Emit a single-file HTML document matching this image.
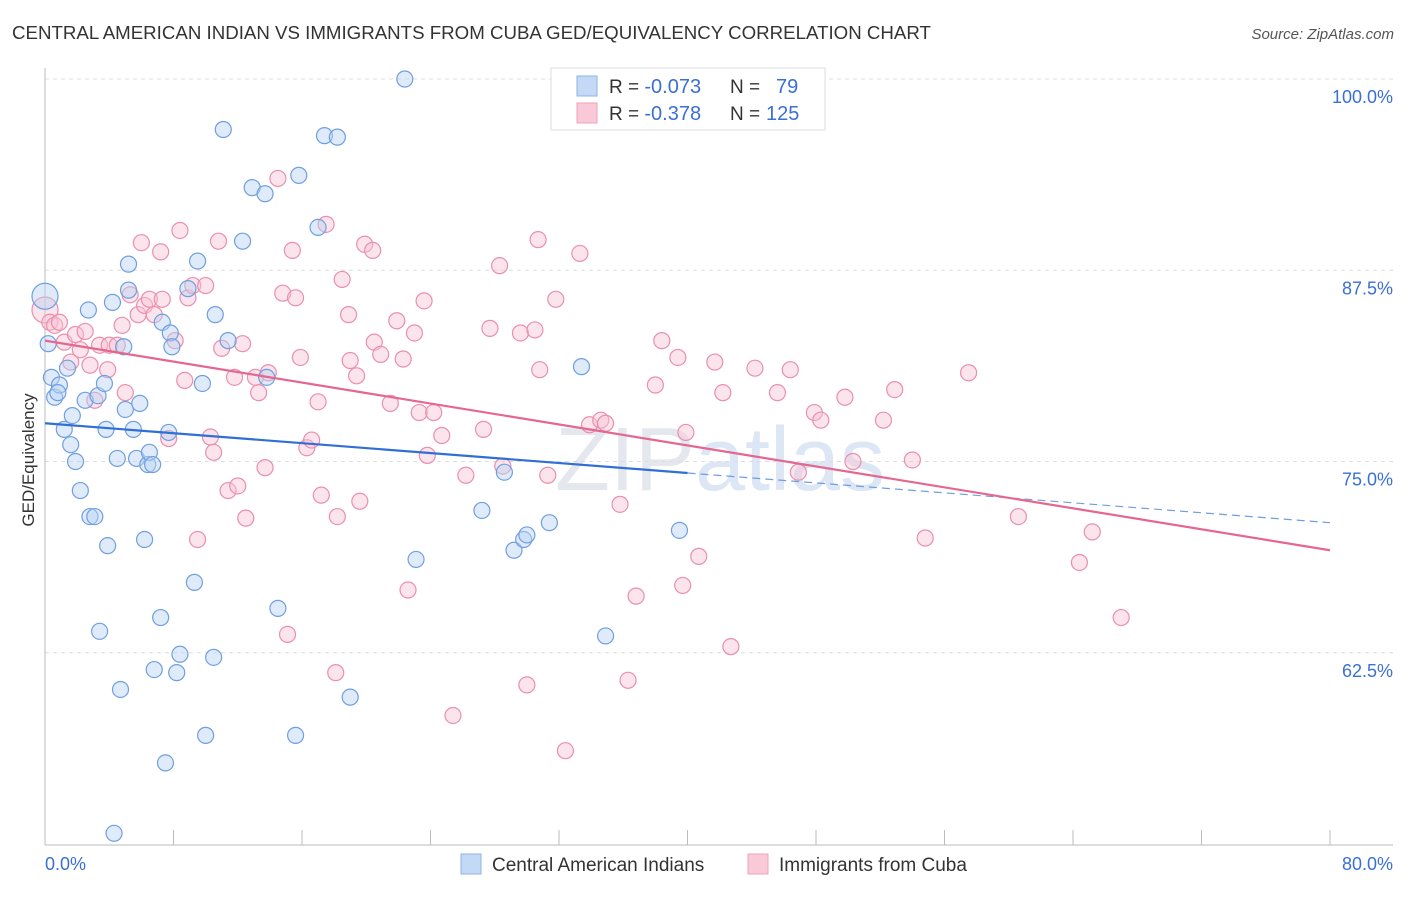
<!DOCTYPE html>
<html><head><meta charset="utf-8"><style>
body{margin:0;background:#fff;font-family:"Liberation Sans",sans-serif}
svg text{font-family:"Liberation Sans",sans-serif}
</style></head><body>
<svg id="c" width="1406" height="892">
<text x="12" y="39" font-size="18.7" fill="#333">CENTRAL AMERICAN INDIAN VS IMMIGRANTS FROM CUBA GED/EQUIVALENCY CORRELATION CHART</text>
<text x="1394" y="39" font-size="15" fill="#555" text-anchor="end" font-style="italic">Source: ZipAtlas.com</text>
<text x="720" y="490" font-size="90" fill="#e4e8ee" text-anchor="middle" font-family="Liberation Serif">ZIP<tspan fill="#dce6f4" font-family="Liberation Sans">atlas</tspan></text>
<g id="grid"></g><g id="axes"></g><g id="pts"></g><g id="trend"></g>
<text x="34" y="460" font-size="17" fill="#333" text-anchor="middle" transform="rotate(-90 34 460)">GED/Equivalency</text>
<g>
<rect x="551" y="68" width="274" height="62" fill="#fff" stroke="#ddd"/>
<rect x="577" y="76" width="20" height="20" fill="#c4d9f5" stroke="#8fb3e6"/>
<rect x="577" y="103" width="20" height="20" fill="#f9c9d8" stroke="#eea3ba"/>
<text x="609" y="93" font-size="19" fill="#333">R = <tspan font-size="20" fill="#3b6fd4">-0.073</tspan><tspan x="730">N = </tspan><tspan x="776" font-size="20" fill="#3b6fd4">79</tspan></text>
<text x="609" y="120" font-size="19" fill="#333">R = <tspan font-size="20" fill="#3b6fd4">-0.378</tspan><tspan x="730">N = </tspan><tspan x="766" font-size="20" fill="#3b6fd4">125</tspan></text>
</g>
<g>
<rect x="461" y="854" width="20" height="20" fill="#c4d9f5" stroke="#8fb3e6"/>
<text x="492" y="871" font-size="19" fill="#333">Central American Indians</text>
<rect x="748" y="854" width="20" height="20" fill="#f9c9d8" stroke="#eea3ba"/>
<text x="779" y="871" font-size="19" fill="#333">Immigrants from Cuba</text>
</g>
</svg>
<script>
const yTicks=[100,87.5,75,62.5];
const yTickLabels=["100.0%","87.5%","75.0%","62.5%"];
const xTicks=[0,8,16,24,32,40,48,56,64,72,80];
const xEndLabels=["0.0%","80.0%"];
const blueX=[0.0,0.2,0.4,0.6,0.9,0.8,1.2,1.4,1.6,1.7,1.9,2.2,2.5,2.7,2.8,3.1,3.3,3.4,3.7,3.8,3.9,4.2,4.3,4.5,4.7,4.9,5.0,5.2,5.2,5.5,5.7,5.9,6.2,6.4,6.5,6.7,6.8,7.2,7.3,7.5,7.7,7.8,7.9,8.2,8.4,8.9,9.3,9.5,9.8,10.0,10.5,10.6,11.1,11.4,12.3,12.9,13.7,13.8,14.5,15.6,15.8,17.0,17.4,18.2,19.0,22.4,23.1,27.2,28.6,29.2,29.8,30.0,31.4,33.4,34.9,39.5];
const blueY=[85.8,82.7,80.5,79.2,80.0,79.5,77.1,81.1,76.1,78.0,75.0,73.1,79.0,84.9,71.4,71.4,79.3,63.9,80.1,77.1,69.5,85.4,50.7,75.2,60.1,82.5,78.4,87.9,86.2,77.1,75.2,78.8,69.9,74.8,75.6,74.8,61.4,64.8,84.1,55.3,76.9,83.4,82.5,61.2,62.4,86.3,67.1,88.1,80.1,57.1,62.2,84.6,96.7,82.9,89.4,92.9,92.5,80.5,65.4,57.1,93.7,90.3,96.3,96.2,59.6,100.0,68.6,71.8,74.3,69.2,69.9,70.2,71.0,81.2,63.6,70.5];
const pinkX=[0.0,0.3,0.6,0.9,1.2,1.6,1.9,2.2,2.5,2.8,3.1,3.4,3.9,4.0,4.5,4.8,5.0,5.3,5.8,6.0,6.2,6.5,6.8,7.2,7.3,7.7,8.1,8.4,8.7,8.9,9.2,9.5,10.0,10.3,10.5,10.8,11.0,11.4,11.8,12.0,12.3,12.5,13.1,13.3,13.7,13.9,14.5,14.8,15.1,15.4,15.6,15.9,16.3,16.6,17.0,17.2,17.5,18.1,18.2,18.5,18.9,19.0,19.4,19.6,19.9,20.4,20.5,20.9,21.5,21.9,22.3,22.6,23.0,23.3,23.6,23.8,24.2,24.7,25.4,26.2,27.3,27.7,28.3,28.5,29.6,30.0,30.5,30.7,30.8,31.3,31.8,32.4,33.3,33.9,34.6,34.9,35.8,36.3,36.8,38.0,38.4,39.4,39.7,39.9,40.7,41.7,42.2,42.7,44.2,45.6,46.4,46.9,47.9,48.3,49.8,50.3,52.2,52.9,54.0,54.8,57.5,60.6,64.4,65.2,67.0];
const pinkY=[84.9,84.1,83.9,84.1,82.8,81.5,83.3,82.3,83.5,81.3,79.0,82.6,81.0,82.6,82.6,83.9,79.5,85.9,84.6,89.3,85.2,85.6,84.6,88.7,85.6,76.5,82.9,90.1,80.3,85.7,86.5,69.9,86.5,76.6,75.6,89.4,82.4,73.1,80.5,73.4,82.7,71.3,80.5,79.5,74.6,80.8,93.5,86.0,63.7,88.8,85.7,81.8,75.9,76.4,78.9,72.8,90.5,61.2,71.4,86.9,84.6,81.6,80.6,72.4,89.2,88.8,82.8,82.0,78.8,84.2,81.7,66.6,83.4,78.2,85.5,75.4,78.2,76.7,58.4,74.1,77.1,83.7,87.8,74.7,83.4,60.4,83.6,89.5,81.0,74.1,85.6,56.1,88.6,77.4,77.7,77.5,72.2,60.7,66.2,80.0,82.9,81.8,66.9,76.9,68.8,81.5,79.5,62.9,81.1,79.5,81.0,74.3,78.2,77.7,79.2,75.0,77.7,79.7,75.1,70.0,80.8,71.4,68.4,70.4,64.8];
const blueTrend=[77.5,71.0];
const blueSolidEnd=40;
const pinkTrend=[82.9,69.2];

const X=v=>45+v/80*1285, Y=v=>79+(100-v)*15.3;
const NS="http://www.w3.org/2000/svg";
function mk(tag,attrs,parent){const e=document.createElementNS(NS,tag);for(const k in attrs)e.setAttribute(k,attrs[k]);document.getElementById(parent).appendChild(e);return e;}
yTicks.forEach((t,i)=>{
  const g=mk('line',{x1:45,x2:1393,y1:Y(t),y2:Y(t),stroke:'#ddd','stroke-dasharray':'4 4'},'grid');
  
  
  const l=mk('text',{x:1393,y:Y(t)+24,'font-size':18,fill:'#3b6fd4','text-anchor':'end'},'axes');
  l.textContent=yTickLabels[i];
  
  
});
let a=mk('line',{x1:45,x2:45,y1:68,y2:845,stroke:'#bbb'},'axes');


a=mk('line',{x1:45,x2:1393,y1:845,y2:845,stroke:'#bbb'},'axes');


xTicks.forEach(t=>{
  const k=mk('line',{x1:X(t),x2:X(t),y1:830,y2:845,stroke:'#bbb'},'axes');
  
  
});
[[0,'start',45],[80,'end',1393]].forEach(([v,anc,px],i)=>{
  const l=mk('text',{x:px,y:870,'font-size':18,fill:'#3b6fd4','text-anchor':anc},'axes');
  l.textContent=xEndLabels[i];
  
  
});
function pts(xs,ys,fill,stroke,name){
  xs.forEach((x,i)=>{
    const c=mk('circle',{cx:X(x),cy:Y(ys[i]),r:(i==0?13:8),fill:fill,'fill-opacity':0.45,stroke:stroke,'stroke-width':1.2},'pts');
    
    
  });
}
pts(pinkX,pinkY,'#f9c3d4','#ea8fac','pink-point');
pts(blueX,blueY,'#b9d2f3','#6f9fe0','blue-point');
const lerp=(t,x)=>t[0]+(t[1]-t[0])*x/80;
let t=mk('line',{x1:X(0),y1:Y(lerp(blueTrend,0)),x2:X(blueSolidEnd),y2:Y(lerp(blueTrend,blueSolidEnd)),stroke:'#2f6fd6','stroke-width':2.2},'trend');


t=mk('line',{x1:X(blueSolidEnd),y1:Y(lerp(blueTrend,blueSolidEnd)),x2:X(80),y2:Y(lerp(blueTrend,80)),stroke:'#6f9fe0','stroke-width':1.2,'stroke-dasharray':'8 5'},'trend');


t=mk('line',{x1:X(0),y1:Y(pinkTrend[0]),x2:X(80),y2:Y(pinkTrend[1]),stroke:'#e5678f','stroke-width':2.2},'trend');


</script>
</body></html>
